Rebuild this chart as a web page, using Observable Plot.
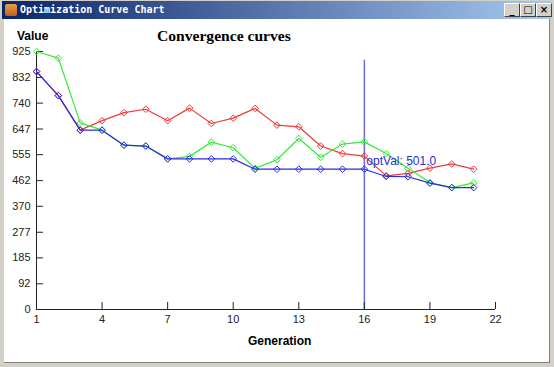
<!DOCTYPE html>
<html>
<head>
<meta charset="utf-8">
<script src="https://cdn.jsdelivr.net/npm/d3@7"></script>
<script src="https://cdn.jsdelivr.net/npm/@observablehq/plot@0.6"></script>
<style>
  html, body { margin: 0; padding: 0; }
  body { width: 554px; height: 367px; position: relative; overflow: hidden; background: #d4d0c8; font-family: "Liberation Sans", Arial, sans-serif; }
  #titlebar { position: absolute; left: 2px; top: 1px; width: 550px; height: 18px; background: linear-gradient(to right, #0a246a, #a6caf0); }
  #titletext { position: absolute; left: 18px; top: 3px; color: #fff; font: bold 10px "DejaVu Sans Mono", monospace; white-space: pre; }
  #icon { position: absolute; left: 3px; top: 3px; width: 12px; height: 12px; background: linear-gradient(#e8a040, #c06020); border-radius: 2px; }
  .btn { position: absolute; top: 2px; width: 16px; height: 14px; background: #d4d0c8; border: 1px solid; border-color: #fff #404040 #404040 #fff; box-sizing: border-box; font: bold 10px "DejaVu Sans", sans-serif; color: #000; text-align: center; line-height: 12px; }
  #client { position: absolute; left: 4px; top: 19px; width: 545px; height: 343px; background: #fff; border-right: 1px solid #808080; border-bottom: 1px solid #808080; }
  #chart { position: absolute; left: 0; top: 0; }
  .lbl { position: absolute; white-space: nowrap; color: #000; }
</style>
</head>
<body>
<div id="titlebar">
  <div id="icon"></div>
  <div id="titletext">Optimization Curve Chart</div>
  <div class="btn" style="left:502px">_</div>
  <div class="btn" style="left:518px">□</div>
  <div class="btn" style="left:534px">×</div>
</div>
<div id="client"></div>
<div id="chart"></div>
<div class="lbl" style="left:17px; top:29px; font: bold 12px 'Liberation Sans', Arial, sans-serif;">Value</div>
<div class="lbl" style="left:157px; top:27px; font: bold 15.6px 'Liberation Serif', 'Times New Roman', serif;">Convergence curves</div>
<div class="lbl" style="left:248px; top:334px; font: bold 12px 'Liberation Sans', Arial, sans-serif;">Generation</div>
<script>
const generations = [1,2,3,4,5,6,7,8,9,10,11,12,13,14,15,16,17,18,19,20,21];
const redValues   = [853,767,643,677,706,718,677,722,667,686,721,661,655,586,559,550,479,488,507,522,503];
const greenValues = [925,901,669,643,589,586,540,549,600,580,506,537,613,546,593,601,559,506,455,437,454];
const blueValues  = [853,767,643,643,589,586,540,540,540,540,503,503,503,503,503,503,477,476,453,437,437];
const xTicks = [1,4,7,10,13,16,19,22];
const yTicks = [0,92,185,277,370,462,555,647,740,832,925];
const optGen = 16;
const optVal = 501.0;
const optLineTop = 894;
const optLabelY = 533;

const mk = (vals) => generations.map((g, i) => ({g, v: vals[i]}));
const series = [
  {data: mk(redValues), color: "#ee3b3b"},
  {data: mk(greenValues), color: "#3ae83a"},
  {data: mk(blueValues), color: "#2b2be0"}
];

const tickLenY = 25;   // ~7px in value units
const tickLenX = 0.32; // ~7px in generation units

const marks = [
  Plot.ruleX([optGen], {y1: 0, y2: optLineTop, stroke: "#6b6be0", strokeWidth: 1.5}),
  Plot.ruleY([0], {x1: 1, x2: 22, stroke: "#222"}),
  Plot.ruleX([1], {y1: 0, y2: 925, stroke: "#222"}),
  Plot.axisX({ticks: xTicks, tickFormat: d => String(d), tickSize: 0, tickPadding: 6, fontSize: 11, label: null, color: "#222"}),
  Plot.axisY({ticks: yTicks, tickFormat: d => String(d), tickSize: 0, tickPadding: 6, fontSize: 11, label: null, color: "#222"}),
  Plot.ruleX(xTicks, {x: d => d, y1: 0, y2: tickLenY, stroke: "#222"}),
  Plot.ruleY(yTicks, {y: d => d, x1: 1, x2: 1 + tickLenX, stroke: "#222"}),
];
for (const s of series) {
  marks.push(Plot.line(s.data, {x: "g", y: "v", stroke: s.color, strokeWidth: 1.2}));
  marks.push(Plot.dot(s.data, {x: "g", y: "v", stroke: s.color, symbol: "diamond2", r: 3, strokeWidth: 1}));
}
marks.push(Plot.text([optVal], {x: optGen, y: optLabelY, text: d => "optVal: " + d.toFixed(1), textAnchor: "start", dx: 2, fill: "#2b2bd0", fontSize: 12}));

const chart = Plot.plot({
  width: 554, height: 367,
  marginLeft: 36, marginRight: 59, marginTop: 51, marginBottom: 58,
  style: {background: "transparent", fontFamily: "'Liberation Sans', Arial, sans-serif"},
  x: {domain: [1, 22]},
  y: {domain: [0, 925]},
  marks
});
document.getElementById("chart").appendChild(chart);
</script>
</body>
</html>
